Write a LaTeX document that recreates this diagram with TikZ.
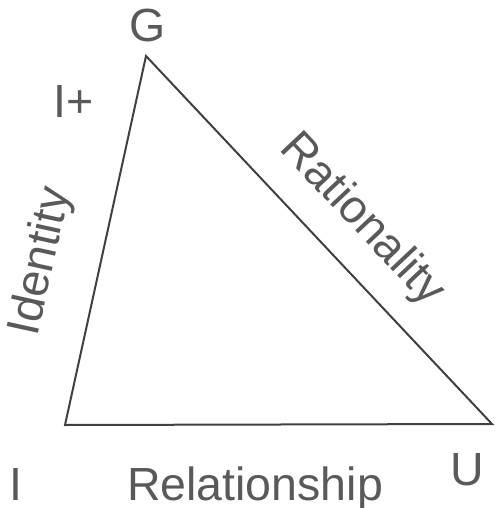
\documentclass[tikz,border=0pt]{standalone}
\usepackage{fontspec}
\setmainfont{Liberation Sans}
\usetikzlibrary{positioning}
\definecolor{ink}{HTML}{595959}
\definecolor{edgegray}{HTML}{404040}

\begin{document}
\begin{tikzpicture}[x=0.5pt,y=-0.5pt,
 lbl/.style={text=ink,inner sep=0pt,font=\fontsize{23.25}{28}\selectfont},
 side/.style={draw=edgegray,line width=1pt}]
\useasboundingbox (0,0) rectangle (500,508);
\coordinate (top) at (146,56);
\coordinate (left) at (65,425);
\coordinate (right) at (492,424);
\draw[side] (left) -- (top) -- (right) -- cycle;
% corner labels
\node[lbl] (g) at (148,25) {G};
\node[lbl] (iplus) at (74,102) {I+};
\node[lbl] (ilow) at (16,484) {I};
\node[lbl] (u) at (467,470) {U};
% side labels
\path (left) -- node[lbl,sloped,above=17.75pt,pos=0.41] (ident) {Identity} (top);
\path (top) -- node[lbl,sloped,above=11.25pt,pos=0.53] (ratio) {Rationality} (right);
\node[lbl,anchor=base] (rel) at (255,500) {Relationship};
\end{tikzpicture}
\end{document}
